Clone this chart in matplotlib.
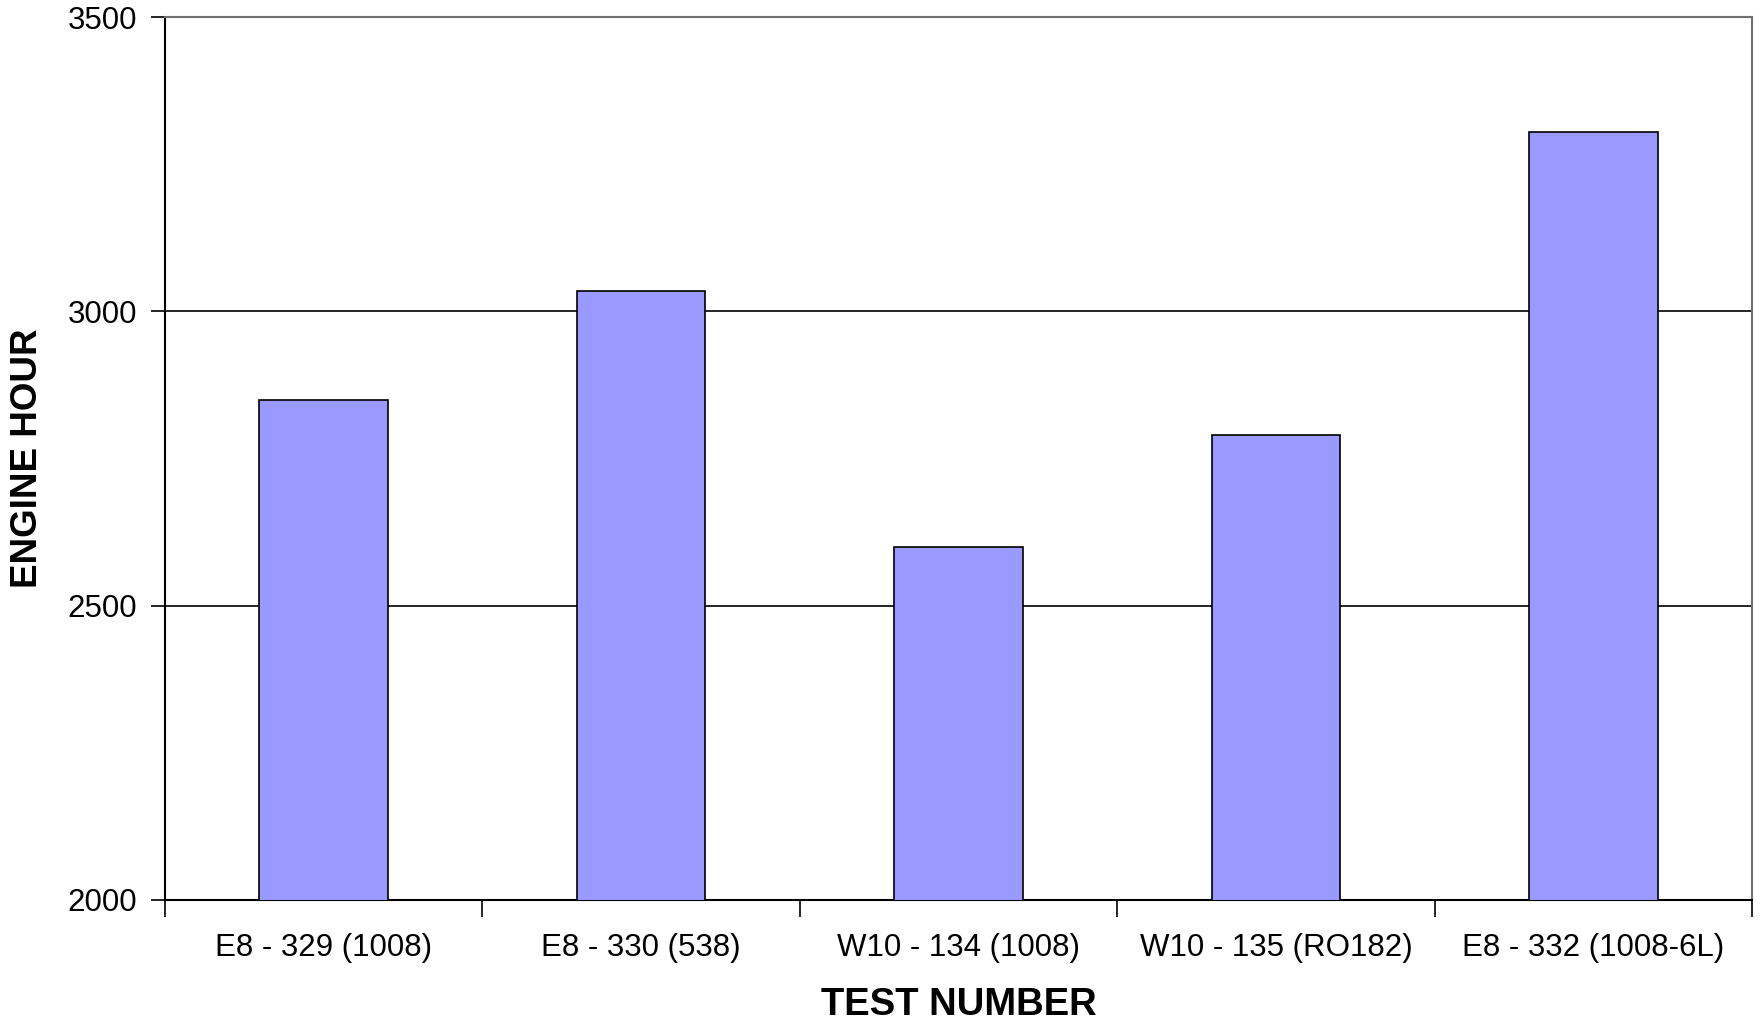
import numpy as np
import matplotlib.pyplot as plt

plt.rcParams['font.family'] = ['Liberation Sans', 'DejaVu Sans']

pruebas = ["E8 - 329 (1008)", "E8 - 330 (538)", "W10 - 134 (1008)",
           "W10 - 135 (RO182)", "E8 - 332 (1008-6L)"]
horas_motor = [2850, 3035, 2600, 2790, 3305]
marcas_y = [2000, 2500, 3000, 3500]

fig = plt.figure(figsize=(17.64, 10.25), dpi=100)
ax = fig.add_axes([0.0935, 0.122, 0.8997, 0.8614])

x = np.arange(len(pruebas))
ax.bar(x, horas_motor, width=0.405, bottom=0, color="#9999FF",
       edgecolor="black", linewidth=1.2, zorder=3)

ax.set_xlim(-0.5, len(pruebas) - 0.5)
ax.set_ylim(2000, 3500)
ax.set_yticks(marcas_y)
ax.set_yticklabels([str(v) for v in marcas_y], fontsize=22.5)

# Etiquetas centradas, marcas entre categorias
ax.set_xticks(x)
ax.set_xticklabels(pruebas, fontsize=22.5)
ax.tick_params(axis="x", which="major", length=0, pad=24)
ax.set_xticks(np.arange(-0.5, len(pruebas)), minor=True)
ax.tick_params(axis="x", which="minor", length=12, width=1.2, color="black")
ax.tick_params(axis="y", length=10, width=1.2, pad=10)

ax.yaxis.grid(True, color="black", linewidth=1.2, zorder=0)
ax.set_axisbelow(True)

for lado in ["top", "right"]:
    ax.spines[lado].set_color("#707070")
    ax.spines[lado].set_linewidth(1.5)
for lado in ["left", "bottom"]:
    ax.spines[lado].set_color("black")
    ax.spines[lado].set_linewidth(1.5)

ax.set_xlabel("TEST NUMBER", fontsize=27.5, fontweight="bold", va="center")
ax.xaxis.set_label_coords(0.5, -0.119)
ax.set_ylabel("ENGINE HOUR", fontsize=26.5, fontweight="bold", va="center")
ax.yaxis.set_label_coords(-0.0863, 0.5)

fig.savefig("out.png", dpi=100, facecolor="white")
